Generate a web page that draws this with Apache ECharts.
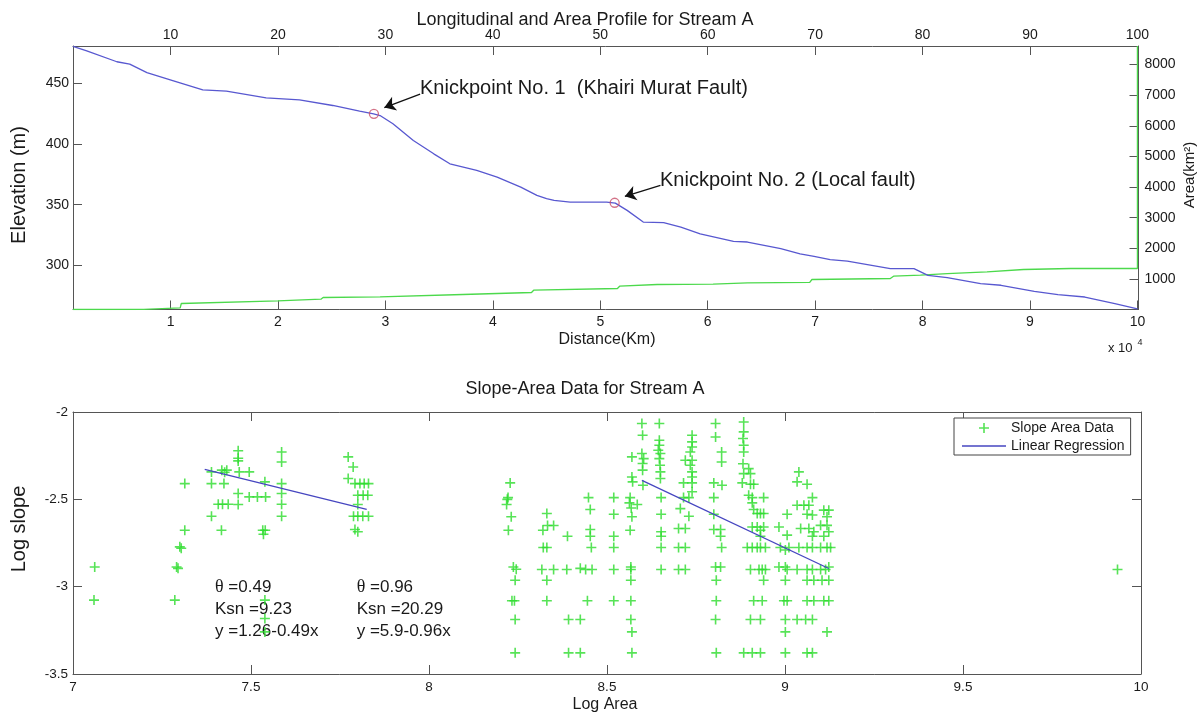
<!DOCTYPE html>
<html>
<head>
<meta charset="utf-8">
<title>Stream A profiles</title>
<script src="https://cdn.jsdelivr.net/npm/echarts@6/dist/echarts.min.js"></script>
<style>
  html, body { margin: 0; padding: 0; background: #fff; }
  #main { width: 1204px; height: 715px; }
</style>
</head>
<body>
<div id="main"></div>
<script>
// top panel: longitudinal profile (distance in x10^4 m units as on the axis)
var distKm = [0.092, 0.22, 0.50, 0.62, 0.78, 1.02, 1.30, 1.52, 1.89, 2.20, 2.51, 2.76, 2.89, 2.95, 3.07, 3.26, 3.45, 3.60, 3.85, 4.04,
  4.26, 4.41, 4.50, 4.57, 4.72, 5.06, 5.14, 5.25, 5.40, 5.59, 5.75, 5.93, 6.24, 6.37, 6.68, 6.86, 6.99, 7.14, 7.30, 7.70,
  7.92, 8.05, 8.23, 8.54, 8.73, 9.04, 9.26, 9.51, 9.79, 10.0];
var elevM = [480.7, 477.0, 468.0, 466.0, 459.0, 452.5, 444.8, 443.7, 438.2, 436.6, 431.9, 427.2, 425.0, 423.6, 416.8, 403.0, 392.0, 383.8, 378.3, 372.8,
  364.5, 357.7, 355.0, 353.5, 352.1, 352.1, 351.3, 345.3, 335.7, 335.2, 331.5, 326.0, 319.7, 319.2, 313.7, 309.5, 307.4, 304.6, 303.5, 297.2,
  297.2, 291.7, 289.8, 284.9, 283.5, 278.5, 275.8, 273.8, 268.4, 264.0];
var areaDistKm = [0.092, 0.75, 1.09, 1.10, 2.00, 2.40, 2.42, 2.95, 3.72, 4.36, 4.38, 5.16, 5.18, 5.53, 6.05, 6.37, 6.95, 6.97, 7.70, 7.73,
  7.98, 8.23, 8.60, 8.94, 9.38, 10.0, 10.0];
var areaKm2 = [0, 5, 50, 196, 281, 336, 392, 411, 490, 555, 630, 686, 761, 816, 826, 870, 885, 980, 1012, 1087,
  1120, 1175, 1228, 1306, 1339, 1339, 8607];
var knickDistKm = [2.893, 5.134];
var knickElevM = [425.0, 351.6];
var knickNames = ['Knickpoint No. 1  (Khairi Murat Fault)', 'Knickpoint No. 2 (Local fault)'];

var distTicks = [1, 2, 3, 4, 5, 6, 7, 8, 9, 10];
var elevTicks = [300, 350, 400, 450];
var areaTicks = [1000, 2000, 3000, 4000, 5000, 6000, 7000, 8000];

// bottom panel: slope-area data [log area, log slope]
var slopeArea = [
  [7.061,-2.887],[7.059,-3.077],
  [7.314,-2.41],[7.314,-2.677],[7.300,-2.772],[7.304,-2.78],[7.291,-2.887],[7.295,-2.895],[7.286,-3.077],
  [7.389,-2.343],[7.389,-2.41],[7.389,-2.597],
  [7.418,-2.333],[7.432,-2.333],[7.426,-2.345],[7.424,-2.41],[7.408,-2.528],[7.420,-2.528],[7.436,-2.528],[7.417,-2.677],
  [7.464,-2.222],[7.464,-2.265],[7.464,-2.28],[7.467,-2.343],[7.495,-2.343],[7.464,-2.467],[7.464,-2.53],
  [7.495,-2.486],[7.518,-2.486],[7.541,-2.486],[7.539,-2.40],
  [7.533,-2.677],[7.540,-2.677],[7.535,-2.70],
  [7.539,-3.077],[7.539,-3.182],[7.539,-3.259],
  [7.586,-2.229],[7.586,-2.286],[7.586,-2.41],[7.586,-2.467],[7.586,-2.528],[7.586,-2.597],
  [7.773,-2.257],[7.787,-2.315],[7.773,-2.381],
  [7.792,-2.41],[7.806,-2.41],[7.818,-2.41],[7.830,-2.41],
  [7.800,-2.477],[7.815,-2.477],[7.828,-2.477],[7.800,-2.53],
  [7.788,-2.597],[7.800,-2.597],[7.814,-2.597],[7.830,-2.597],[7.792,-2.673],[7.800,-2.686],
  [8.228,-2.406],[8.222,-2.49],[8.220,-2.50],[8.218,-2.53],[8.231,-2.60],[8.223,-2.677],[8.237,-2.887],[8.245,-2.90],
  [8.242,-2.963],[8.233,-3.081],[8.240,-3.081],[8.242,-3.188],[8.242,-3.379],
  [8.331,-2.581],[8.320,-2.677],[8.333,-2.65],[8.350,-2.65],[8.321,-2.776],[8.331,-2.776],[8.317,-2.902],[8.350,-2.902],
  [8.331,-2.963],[8.331,-3.081],
  [8.389,-2.711],[8.387,-2.902],[8.392,-3.188],[8.425,-3.188],[8.392,-3.379],[8.425,-3.379],
  [8.448,-2.49],[8.453,-2.558],[8.453,-2.673],[8.453,-2.711],[8.456,-2.776],[8.425,-2.895],[8.440,-2.902],[8.458,-2.902],[8.445,-3.081],
  [8.519,-2.49],[8.519,-2.585],[8.519,-2.711],[8.519,-2.776],[8.519,-2.902],[8.519,-3.081],
  [8.570,-2.372],[8.572,-2.40],[8.565,-2.49],[8.563,-2.52],[8.568,-2.55],[8.585,-2.53],[8.570,-2.60],[8.565,-2.677],
  [8.567,-2.887],[8.567,-2.902],[8.567,-2.963],[8.567,-3.081],[8.567,-3.188],[8.570,-3.259],[8.570,-3.379],
  [8.598,-2.066],[8.600,-2.133],[8.598,-2.238],[8.570,-2.257],[8.603,-2.267],[8.600,-2.295],[8.600,-2.333],[8.601,-2.419],
  [8.647,-2.066],[8.647,-2.162],[8.647,-2.19],[8.644,-2.219],[8.650,-2.238],[8.647,-2.267],[8.649,-2.305],[8.650,-2.343],
  [8.650,-2.381],[8.652,-2.49],[8.652,-2.585],[8.652,-2.686],[8.652,-2.711],[8.652,-2.776],[8.652,-2.902],
  [8.739,-2.133],[8.739,-2.171],[8.739,-2.20],[8.734,-2.229],[8.720,-2.276],[8.739,-2.276],[8.734,-2.305],[8.739,-2.343],
  [8.739,-2.372],[8.715,-2.406],[8.739,-2.406],[8.715,-2.49],[8.730,-2.49],[8.739,-2.457],[8.706,-2.553],[8.730,-2.597],
  [8.701,-2.667],[8.720,-2.667],[8.701,-2.776],[8.720,-2.776],[8.701,-2.902],[8.720,-2.902],
  [8.805,-2.066],[8.805,-2.143],[8.822,-2.229],[8.822,-2.286],[8.800,-2.406],[8.823,-2.419],[8.800,-2.49],[8.800,-2.585],
  [8.800,-2.673],[8.819,-2.673],[8.819,-2.711],[8.822,-2.776],[8.805,-2.887],[8.819,-2.887],[8.807,-2.963],[8.807,-3.081],
  [8.805,-3.188],[8.807,-3.379],
  [8.884,-2.057],[8.884,-2.114],[8.882,-2.152],[8.884,-2.19],[8.884,-2.229],[8.882,-2.296],[8.898,-2.324],[8.903,-2.353],
  [8.884,-2.353],[8.880,-2.406],[8.903,-2.414],[8.912,-2.414],[8.898,-2.477],[8.908,-2.49],[8.940,-2.49],[8.908,-2.52],
  [8.912,-2.558],[8.922,-2.581],[8.931,-2.581],[8.940,-2.581],[8.908,-2.658],[8.922,-2.658],[8.931,-2.677],[8.940,-2.658],
  [8.931,-2.711],[8.894,-2.776],[8.908,-2.776],[8.922,-2.776],[8.931,-2.776],[8.945,-2.776],[8.903,-2.902],[8.927,-2.902],
  [8.936,-2.902],[8.945,-2.902],[8.940,-2.963],[8.912,-3.081],[8.936,-3.081],[8.903,-3.188],[8.931,-3.188],[8.884,-3.379],
  [8.908,-3.379],[8.931,-3.379],
  [9.006,-2.585],[8.983,-2.658],[9.006,-2.705],[8.987,-2.776],[9.011,-2.776],[9.001,-2.79],[8.983,-2.887],[9.001,-2.887],
  [9.006,-2.902],[9.001,-2.963],[8.997,-3.081],[9.006,-3.081],[9.001,-3.188],[9.001,-3.259],[9.001,-3.379],
  [9.039,-2.343],[9.034,-2.40],[9.062,-2.414],[9.077,-2.49],[9.034,-2.534],[9.053,-2.534],[9.067,-2.534],[9.062,-2.585],
  [9.077,-2.59],[9.044,-2.667],[9.067,-2.667],[9.081,-2.686],[9.077,-2.711],[9.039,-2.776],[9.062,-2.776],[9.077,-2.776],
  [9.034,-2.902],[9.062,-2.902],[9.077,-2.902],[9.062,-2.963],[9.081,-2.963],[9.062,-3.081],[9.081,-3.081],[9.034,-3.188],
  [9.058,-3.188],[9.077,-3.188],[9.062,-3.379],[9.077,-3.379],
  [9.109,-2.562],[9.123,-2.562],[9.118,-2.60],[9.100,-2.649],[9.118,-2.649],[9.123,-2.686],[9.109,-2.711],[9.100,-2.776],
  [9.118,-2.776],[9.128,-2.776],[9.100,-2.902],[9.114,-2.902],[9.123,-2.887],[9.104,-2.963],[9.123,-2.963],[9.109,-3.081],
  [9.123,-3.081],[9.118,-3.259],
  [9.934,-2.902]
];
var regLow = [[7.37, -2.328], [7.825, -2.558]];
var regHigh = [[8.598, -2.391], [9.123, -2.896]];
var fitText = [
  ['0.49', '9.23', 'y =1.26-0.49x'],
  ['0.96', '20.29', 'y =5.9-0.96x']
];

var font = 'Liberation Sans, Arial, sans-serif';
var frameColor = '#555';
var textColor = '#1a1a1a';
var blue = '#5858d0';
var green = '#4cd94c';
var plus = 'path://M-0.16,-1 L0.16,-1 L0.16,-0.16 L1,-0.16 L1,0.16 L0.16,0.16 L0.16,1 L-0.16,1 L-0.16,0.16 L-1,0.16 L-1,-0.16 L-0.16,-0.16 Z';

function zip(a, b) {
  return a.map(function (v, i) { return [v, b[i]]; });
}

function axis(o) {
  var tick = { show: true, inside: true, length: 9, lineStyle: { color: frameColor } };
  var label = {
    show: o.labels !== false, color: textColor, fontSize: o.fontSize || 14, fontFamily: font, margin: o.margin || 5,
    formatter: o.formatter || function (v) { return String(v); }
  };
  if (o.ticks) { tick.customValues = o.ticks; label.customValues = o.ticks; }
  return {
    type: 'value', gridIndex: o.grid, position: o.position,
    min: o.min, max: o.max, interval: o.interval,
    axisLine: { show: true, onZero: false, lineStyle: { color: frameColor, width: 1 } },
    axisTick: tick,
    axisLabel: label,
    splitLine: { show: false }
  };
}

function txt(text, x, y, size, align, extra) {
  var el = {
    type: 'text', x: x, y: y, silent: true,
    style: {
      text: text, fontSize: size, fontFamily: font, fill: textColor,
      align: align || 'center', textAlign: align || 'center',
      verticalAlign: 'middle', textVerticalAlign: 'middle'
    }
  };
  if (extra) { for (var k in extra) el[k] = extra[k]; }
  return el;
}

var graphics = [
  txt('Longitudinal and Area Profile for Stream A', 585, 20, 18),
  txt('Distance(Km)', 607, 340, 16),
  txt('x 10', 1108, 348.5, 13, 'left'),
  txt('4', 1137.5, 343, 9, 'left'),
  txt('Elevation (m)', 19, 185, 20, 'center', { rotation: Math.PI / 2 }),
  txt('Area(km²)', 1190, 175, 15, 'center', { rotation: Math.PI / 2 }),
  txt(knickNames[0], 420, 88, 20, 'left'),
  txt(knickNames[1], 660, 180, 20, 'left'),
  txt('Slope-Area Data for Stream A', 585, 389, 18),
  txt('Log Area', 605, 705, 16),
  txt('Log slope', 19, 529, 20, 'center', { rotation: Math.PI / 2 })
];
var fitX = [215, 356.7];
fitText.forEach(function (f, i) {
  var th = txt('{t|θ} =' + f[0], fitX[i], 587, 17, 'left');
  th.style.rich = { t: { fontFamily: 'Liberation Serif, serif', fontSize: 18, fill: textColor } };
  graphics.push(th);
  graphics.push(txt('Ksn =' + f[1], fitX[i], 609, 17, 'left'));
  graphics.push(txt(f[2], fitX[i], 631.5, 17, 'left'));
});

var chart = echarts.init(document.getElementById('main'), null, { renderer: 'canvas' });
chart.setOption({
  animation: false,
  backgroundColor: '#fff',
  textStyle: { fontFamily: font },
  grid: [
    { left: 73, top: 46, right: 65.5, height: 263.5 },
    { left: 73, top: 412, right: 63, height: 262 }
  ],
  xAxis: [
    axis({ grid: 0, position: 'bottom', min: 0.092, max: 10.01, ticks: distTicks, margin: 6 }),
    axis({ grid: 0, position: 'top', min: 0.092, max: 10.01, ticks: distTicks, margin: 4,
      formatter: function (v) { return String(Math.round(v * 10)); } }),
    axis({ grid: 1, position: 'bottom', min: 7, max: 10, interval: 0.5, fontSize: 13.5, margin: 6 }),
    axis({ grid: 1, position: 'top', min: 7, max: 10, interval: 0.5, labels: false })
  ],
  yAxis: [
    axis({ grid: 0, position: 'left', min: 263.5, max: 481, ticks: elevTicks, margin: 4 }),
    axis({ grid: 0, position: 'right', min: 0, max: 8607, ticks: areaTicks, margin: 6 }),
    axis({ grid: 1, position: 'left', min: -3.5, max: -2, interval: 0.5, fontSize: 13.5, margin: 5 }),
    axis({ grid: 1, position: 'right', min: -3.5, max: -2, interval: 0.5, labels: false })
  ],
  legend: {
    data: [
      { name: 'Slope Area Data', icon: plus },
      { name: 'Linear Regression', icon: 'path://M0,0 L44,0 L44,1.3 L0,1.3 Z' }
    ],
    left: 954, top: 418, orient: 'vertical',
    itemWidth: 44, itemHeight: 10, itemGap: 4,
    padding: [3, 6, 2, 8],
    backgroundColor: '#fff', borderColor: '#444', borderWidth: 1,
    itemStyle: { borderWidth: 0 },
    textStyle: { fontSize: 14, fontFamily: font, color: textColor },
    selectedMode: false
  },
  graphic: graphics,
  series: [
    {
      name: 'Elevation', type: 'line', xAxisIndex: 0, yAxisIndex: 0,
      data: zip(distKm, elevM), symbol: 'none', z: 3,
      lineStyle: { color: blue, width: 1.3 }
    },
    {
      name: 'Area', type: 'line', xAxisIndex: 0, yAxisIndex: 1,
      data: zip(areaDistKm, areaKm2), symbol: 'none', z: 2,
      lineStyle: { color: green, width: 1.3 }
    },
    {
      name: 'Knickpoints', type: 'scatter', xAxisIndex: 0, yAxisIndex: 0,
      data: zip(knickDistKm, knickElevM), symbol: 'circle', symbolSize: 9, z: 4,
      itemStyle: { color: 'rgba(0,0,0,0)', borderColor: '#c8506a', borderWidth: 1.3 },
      markLine: {
        silent: true, symbol: ['none', 'arrow'], symbolSize: 11,
        lineStyle: { color: '#111', width: 1.3, type: 'solid' },
        itemStyle: { color: '#111' },
        label: { show: false },
        data: [
          [{ coord: [3.323, 441.2] }, { coord: [2.99, 430.2] }],
          [{ coord: [5.56, 365.9] }, { coord: [5.229, 356.9] }]
        ]
      }
    },
    {
      name: 'Slope Area Data', type: 'scatter', xAxisIndex: 2, yAxisIndex: 2,
      data: slopeArea, symbol: plus, symbolSize: 10,
      itemStyle: { color: '#2ddc2d' }
    },
    {
      name: 'Linear Regression', type: 'line', xAxisIndex: 2, yAxisIndex: 2,
      data: regLow, symbol: 'none', z: 3,
      lineStyle: { color: '#4646c0', width: 1.3 }, itemStyle: { color: '#4646c0' }
    },
    {
      name: 'Linear Regression', type: 'line', xAxisIndex: 2, yAxisIndex: 2,
      data: regHigh, symbol: 'none', z: 3,
      lineStyle: { color: '#4646c0', width: 1.3 }, itemStyle: { color: '#4646c0' }
    }
  ]
});
</script>
</body>
</html>
